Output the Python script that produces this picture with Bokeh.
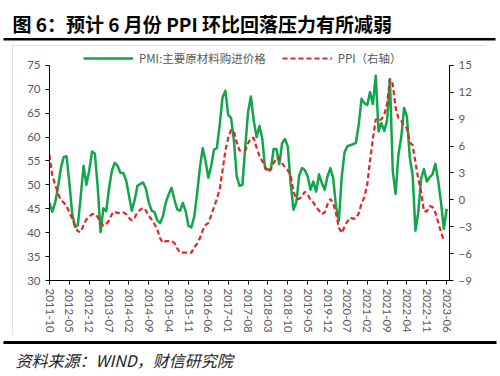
import math
import pandas as pd
from bokeh.plotting import figure
from bokeh.models import Range1d, LinearAxis, Legend, LegendItem, ColumnDataSource, FixedTicker
from bokeh.layouts import column
from bokeh.embed import file_html
from bokeh.resources import INLINE
from bokeh.core.properties import value

# ---------------- data ----------------
months = [p.strftime("%Y-%m") for p in pd.period_range("2011-10", "2023-06", freq="M")]

pmi_price = [
    46.2, 44.4, 46.3,
    49.5, 53.5, 55.8, 56.0, 50.5, 44.0, 41.2, 41.6, 47.5, 54.0, 50.0, 53.0,
    57.0, 56.5, 49.5, 40.1, 45.1, 44.5, 49.3, 53.0, 54.6, 54.0, 52.5, 52.5,
    51.0, 47.8, 44.6, 46.8, 49.8, 50.2, 50.5, 49.2, 46.3, 44.6, 44.3, 42.6,
    42.0, 43.5, 46.3, 48.0, 49.4, 47.0, 44.9, 44.6, 46.2, 44.5, 41.4, 41.1,
    43.3, 48.0, 53.5, 57.7, 55.0, 51.5, 54.0, 57.4, 57.7, 62.6, 68.3, 69.7,
    64.6, 64.0, 59.3, 51.8, 49.8, 50.0, 57.9, 65.3, 68.5, 63.4, 60.0, 62.3,
    59.7, 53.4, 53.2, 53.2, 57.5, 57.5, 54.3, 58.7, 59.6, 58.0, 50.3, 44.8,
    46.3, 51.9, 53.5, 53.1, 51.8, 49.0, 50.7, 48.6, 52.2, 50.4, 49.0, 51.8,
    53.5, 51.4, 45.5, 42.5, 51.6, 56.8, 58.1, 58.3, 58.5, 58.8, 62.6, 68.0,
    67.1, 66.7, 69.4, 66.9, 72.8, 61.2, 62.9, 61.3, 63.5, 72.1, 52.9, 48.1,
    56.4, 60.0, 66.1, 64.2, 55.8, 52.0, 40.4, 44.3, 51.3, 53.3, 50.7, 51.6,
    52.2, 54.4, 50.9, 46.4, 40.8, 45.0,
]

ppi_yoy = [
    5.0, 2.7, 1.7,
    0.7, 0.0, -0.3, -0.7, -1.4, -2.1, -2.9, -3.5, -3.6, -2.8, -2.2, -1.9,
    -1.6, -1.6, -1.9, -2.6, -2.9, -2.7, -2.3, -1.6, -1.3, -1.5, -1.4, -1.4,
    -1.6, -2.0, -2.3, -2.0, -1.4, -1.1, -0.9, -1.2, -1.8, -2.2, -2.7, -3.3,
    -4.3, -4.8, -4.6, -4.6, -4.6, -4.8, -5.4, -5.9, -5.9, -5.9, -5.9, -5.9,
    -5.3, -4.9, -4.3, -3.4, -2.8, -2.6, -1.7, -0.8, 0.1, 1.2, 3.3, 5.5,
    6.9, 7.8, 7.6, 6.4, 5.5, 5.5, 5.5, 6.3, 6.9, 6.9, 5.8, 4.9,
    4.3, 3.7, 3.1, 3.4, 4.1, 4.7, 4.6, 4.1, 3.6, 3.3, 2.7, 0.9,
    0.1, 0.1, 0.4, 0.9, 0.6, 0.0, -0.3, -0.8, -1.2, -1.6, -1.4, -0.5,
    0.1, -0.4, -1.5, -3.1, -3.7, -3.0, -2.4, -2.0, -2.1, -2.1, -1.5, -0.4,
    0.3, 1.7, 4.4, 6.8, 9.0, 8.8, 9.0, 9.5, 10.7, 13.5, 12.9, 10.3,
    9.1, 8.8, 8.3, 8.0, 6.4, 6.1, 4.2, 2.3, 0.9, -1.3, -1.3, -0.7,
    -0.8, -1.4, -2.5, -3.6, -4.6,
]

tick_labels = ["2011-10", "2012-05", "2012-12", "2013-07", "2014-02", "2014-09",
               "2015-04", "2015-11", "2016-06", "2017-01", "2017-08", "2018-03",
               "2018-10", "2019-05", "2019-12", "2020-07", "2021-02", "2021-09",
               "2022-04", "2022-11", "2023-06"]

left_ticks = [30, 35, 40, 45, 50, 55, 60, 65, 70, 75]
right_ticks = [-9, -6, -3, 0, 3, 6, 9, 12, 15]

title_text = "图 6：预计 6 月份 PPI 环比回落压力有所减弱"
source_text = "资料来源：WIND，财信研究院"
pmi_label = "PMI:主要原材料购进价格"
ppi_label = "PPI（右轴）"

GREEN = "#12A64B"
RED = "#E0262B"
LABEL = "#595959"

src_pmi = ColumnDataSource(dict(x=list(range(len(pmi_price))), y=pmi_price))
src_ppi = ColumnDataSource(dict(x=list(range(len(ppi_yoy))), y=ppi_yoy))

# ---------------- title strip ----------------
tf = figure(width=500, height=44, x_range=Range1d(0, 500), y_range=Range1d(0, 44),
            output_backend="svg", toolbar_location=None, min_border=0,
            x_axis_location=None, y_axis_location=None, outline_line_color=None)
tf.frame_align = False
tf.grid.visible = False
tf.text(x=[12], y=[21.5], text=[title_text], text_font=value("Noto Sans CJK SC"),
        text_font_style="bold", text_font_size="19px", text_baseline="middle",
        text_align="left", text_color="#000000")
tf.quad(left=[3], right=[495], bottom=[4], top=[6.5], fill_color="#000000", line_color=None)

# ---------------- main chart (boxed) ----------------
# the frame is extended above the axes' top so the legend row fits inside it;
# axis lines are bounded to the real value ranges.
AXIS_PX = 217.0
EXTRA_PX = 18.0
left_lo, left_hi = left_ticks[0], left_ticks[-1]
right_lo, right_hi = right_ticks[0], right_ticks[-1]
left_top = left_hi + EXTRA_PX * (left_hi - left_lo) / AXIS_PX
right_top = right_hi + EXTRA_PX * (right_hi - right_lo) / AXIS_PX

p = figure(width=473, height=290, x_range=Range1d(0, 141), y_range=Range1d(left_lo, left_top),
           output_backend="svg", toolbar_location=None,
           min_border_left=37, min_border_right=36, min_border_top=2, min_border_bottom=53,
           outline_line_color=None, margin=(1, 15, 5, 12))
p.frame_align = False
p.styles = {"outline": "1px solid #d9d9d9", "outline-offset": "-1px"}
p.grid.visible = False
p.extra_y_ranges = {"ppi": Range1d(right_lo, right_top)}

g = p.line("x", "y", source=src_pmi, line_color=GREEN, line_width=2.5, line_join="round")
r = p.line("x", "y", source=src_ppi, y_range_name="ppi", line_color=RED, line_width=2.2,
           line_dash="5 3")

def style_axis(ax):
    ax.axis_line_color = "#000000"
    ax.axis_line_width = 1
    ax.major_tick_line_color = "#000000"
    ax.major_tick_in = 0
    ax.major_tick_out = 4
    ax.minor_tick_line_color = None
    ax.major_label_text_font = "Lato"
    ax.major_label_text_font_size = "11.5px"
    ax.major_label_text_color = LABEL

p.yaxis.ticker = FixedTicker(ticks=left_ticks)
style_axis(p.yaxis[0])
p.yaxis[0].bounds = (left_lo, left_hi)
p.yaxis[0].major_label_standoff = 5

ax_r = LinearAxis(y_range_name="ppi", ticker=FixedTicker(ticks=right_ticks))
style_axis(ax_r)
ax_r.bounds = (right_lo, right_hi)
ax_r.major_label_standoff = 5
p.add_layout(ax_r, "right")

xt = list(range(0, 141, 7))
p.xaxis.ticker = FixedTicker(ticks=xt)
p.xaxis.major_label_overrides = {t: lab for t, lab in zip(xt, tick_labels)}
style_axis(p.xaxis[0])
p.xaxis.major_label_orientation = -math.pi / 2
p.xaxis.major_label_standoff = 4

legend = Legend(items=[LegendItem(label=pmi_label, renderers=[g]),
                       LegendItem(label=ppi_label, renderers=[r])],
                orientation="horizontal", location=(34, 214), padding=0, margin=0,
                spacing=16, label_standoff=6, glyph_width=50, glyph_height=12,
                label_height=12, label_text_font="Noto Sans CJK SC",
                label_text_font_size="11.5px", label_text_color=LABEL,
                background_fill_alpha=0, border_line_color=None)
p.add_layout(legend)

# ---------------- source strip ----------------
bf = figure(width=500, height=36, x_range=Range1d(0, 500), y_range=Range1d(0, 36),
            output_backend="svg", toolbar_location=None, min_border=0,
            x_axis_location=None, y_axis_location=None, outline_line_color=None)
bf.frame_align = False
bf.grid.visible = False
bf.quad(left=[3], right=[496], bottom=[32.5], top=[35.5], fill_color="#000000", line_color=None)
bf.text(x=[15], y=[17], text=[source_text], text_font=value("Noto Sans CJK SC"),
        text_font_style="italic", text_font_size="16px", text_baseline="middle",
        text_align="left", text_color="#222222")

layout = column(tf, p, bf, spacing=0)
open("out.html", "w").write(file_html(layout, INLINE))
